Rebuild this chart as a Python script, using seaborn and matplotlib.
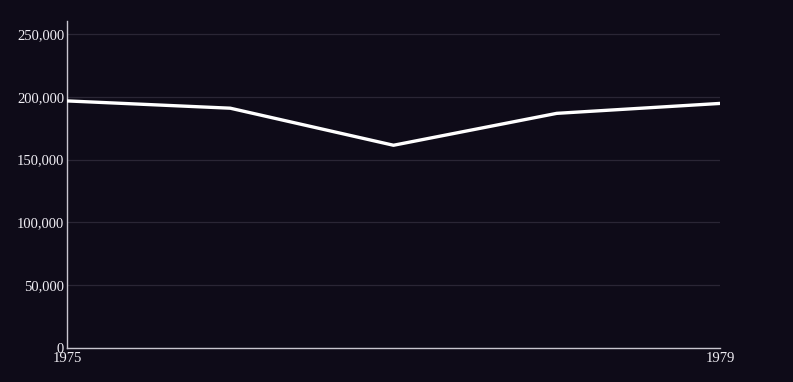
import matplotlib
matplotlib.use("Agg")
import matplotlib.pyplot as plt
import seaborn as sns
import pandas as pd
from matplotlib.ticker import FuncFormatter

years = [1975, 1976, 1977, 1978, 1979]
values = [196700, 190900, 161400, 186800, 194700]
y_ticks = [0, 50000, 100000, 150000, 200000, 250000]
x_ticks = [1975, 1979]

BG = "#0e0b18"
GRID = "#2a2635"
SPINE = "#c8c6cf"
TEXT = "#f0eef4"

sns.set_theme(style="dark")
plt.rcParams["font.family"] = ["Liberation Serif", "DejaVu Serif"]

df = pd.DataFrame({"year": years, "value": values})

fig = plt.figure(figsize=(7.93, 3.82), dpi=100, facecolor=BG)
ax = fig.add_axes([67 / 793, 34 / 382, (720 - 67) / 793, (348 - 21.4) / 382])
ax.set_facecolor(BG)

sns.lineplot(data=df, x="year", y="value", ax=ax, color="white", linewidth=2.4, zorder=3)

ax.set_xlim(1975, 1979)
ax.set_ylim(0, 260000)
ax.set_xticks(x_ticks)
ax.set_yticks(y_ticks)
ax.yaxis.set_major_formatter(FuncFormatter(lambda v, p: f"{int(v):,}"))
ax.grid(axis="y", color=GRID, linewidth=0.9)
ax.grid(axis="x", visible=False)
ax.set_xlabel("")
ax.set_ylabel("")

for s in ["top", "right"]:
    ax.spines[s].set_visible(False)
for s in ["left", "bottom"]:
    ax.spines[s].set_visible(True)
    ax.spines[s].set_color(SPINE)
    ax.spines[s].set_linewidth(1.0)

ax.tick_params(axis="both", length=0, colors=TEXT, labelsize=10.5)
ax.tick_params(axis="y", pad=2)
ax.tick_params(axis="x", pad=3)

fig.savefig("out.png", dpi=100, facecolor=BG)
